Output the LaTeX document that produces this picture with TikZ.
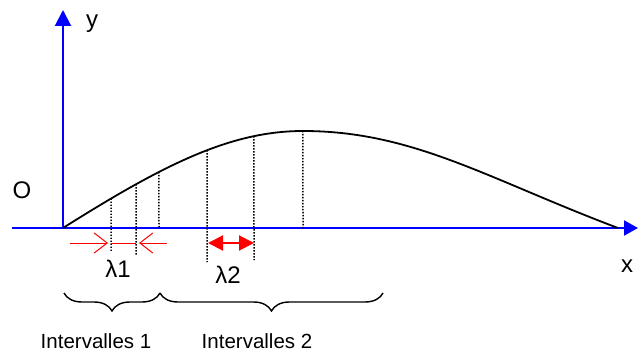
\documentclass[tikz,border=0pt]{standalone}
\usepackage{fontspec}
\setmainfont{Liberation Sans}
\usetikzlibrary{arrows.meta,intersections,decorations.pathreplacing}
\begin{document}
\begin{tikzpicture}[x=1pt,y=-1pt,
  axis/.style={blue,line width=2pt},
  curvestyle/.style={black,line width=1.8pt},
  dotline/.style={black,line width=1.5pt,dash pattern=on 1.4pt off 1.6pt},
  thinred/.style={red,line width=1pt},
  openarrow/.style={thinred,-{Straight Barb[length=13pt,width=20pt,line width=1pt]}},
  lamarrow/.style={red,line width=2pt,{Triangle[length=15pt,width=15pt]}-{Triangle[length=15pt,width=15pt]}},
  bracestyle/.style={black,line width=1.4pt,decorate,decoration={brace,mirror,amplitude=18pt}},
  biglabel/.style={inner sep=0pt,anchor=base,font=\fontsize{24}{28}\selectfont},
  smalllabel/.style={inner sep=0pt,anchor=base,font=\fontsize{20.5}{24}\selectfont}]
\useasboundingbox (0,0) rectangle (638,353);
% axes
\coordinate (O) at (63,228);
\coordinate (xstart) at (12,228);
\coordinate (xend) at (638,228);
\coordinate (yend) at (63,10);
\draw[axis,-{Triangle[length=14pt,width=15pt]}] (xstart) -- (xend);
\draw[axis,-{Triangle[length=16pt,width=16pt]}] (O) -- (yend);
% curve
\draw[curvestyle,name path=curve] (O) .. controls (163,165) and (230,131) .. (303,131)
  .. controls (413,131) and (488,179) .. (618,228);
% dotted verticals
\foreach \xx/\yb [count=\i] in {111/251,136/255,159/228,207/262,254/260,303/228} {
  \path[name path=v\i] (\xx,100) -- (\xx,240);
  \draw[dotline,name intersections={of=curve and v\i,by=top\i}] (top\i) -- (\xx,\yb);
}
% lambda 1 arrows
\coordinate (a1s) at (70,243);
\coordinate (a1e) at (108,243);
\coordinate (m1s) at (111,243);
\coordinate (m1e) at (136,243);
\coordinate (a2s) at (167,243);
\coordinate (a2e) at (139,243);
\draw[openarrow] (a1s) -- (a1e);
\draw[thinred] (m1s) -- (m1e);
\draw[openarrow] (a2s) -- (a2e);
% lambda 2 arrow
\coordinate (l2s) at (208,243);
\coordinate (l2e) at (254,243);
\draw[lamarrow] (l2s) -- (l2e);
% braces
\coordinate (b1s) at (64,293);
\coordinate (b1e) at (160,293);
\coordinate (b2e) at (383,293);
\draw[bracestyle] (b1s) -- (b1e);
\draw[bracestyle] (b1e) -- (b2e);
% labels
\node[biglabel] (lO) at (22,198) {O};
\node[biglabel] (ly) at (92,28) {y};
\node[biglabel] (lx) at (627,272) {x};
\node[biglabel] (ll1) at (118,277) {λ1};
\node[biglabel] (ll2) at (228,283) {λ2};
\node[smalllabel] (li1) at (96,348) {Intervalles 1};
\node[smalllabel] (li2) at (257,348) {Intervalles 2};
\end{tikzpicture}
\end{document}
